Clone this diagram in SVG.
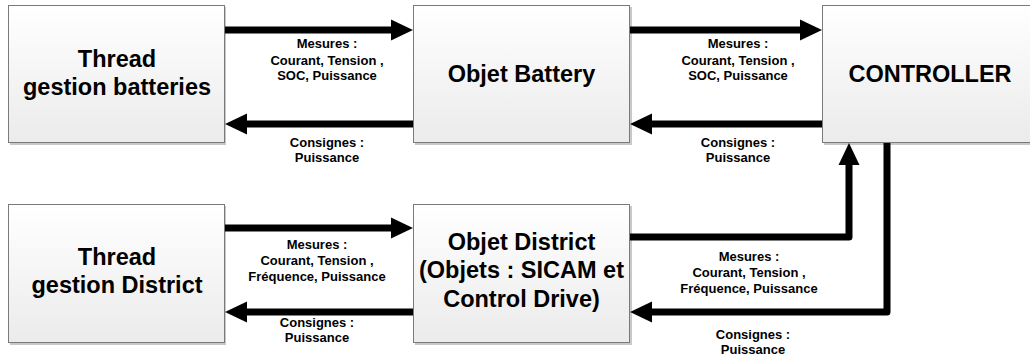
<svg xmlns="http://www.w3.org/2000/svg" width="1030" height="357" viewBox="0 0 1030 357">
<defs>
<linearGradient id="g" x1="0" y1="0" x2="0" y2="1">
<stop offset="0" stop-color="#ffffff"/>
<stop offset="1" stop-color="#ebebeb"/>
</linearGradient>
<style>
.box{fill:url(#g);stroke:#7a7a7a;stroke-width:1}
.sh{fill:#c8c8c8}
.t{font-family:"Liberation Sans",Arial,sans-serif;font-weight:bold;font-size:23.5px;fill:#000;text-anchor:middle}
.l{font-family:"Liberation Sans",Arial,sans-serif;font-weight:bold;font-size:13px;fill:#000;text-anchor:middle}
.ln{fill:none;stroke:#000;stroke-width:7;stroke-linejoin:round}
.hd{fill:#000}
</style>
</defs>
<rect width="1030" height="357" fill="#fff"/>

<g id="node-thread-batteries">
<rect class="sh" x="10" y="7" width="216" height="138"/>
<rect class="box" x="8.5" y="5.5" width="216" height="137"/>
<text class="t" x="117" y="67">Thread</text>
<text class="t" x="117" y="95">gestion batteries</text>
</g>

<g id="node-objet-battery">
<rect class="sh" x="415" y="7" width="217" height="138"/>
<rect class="box" x="413.5" y="5.5" width="216" height="137"/>
<text class="t" x="521.5" y="82">Objet Battery</text>
</g>

<g id="node-controller">
<rect class="sh" x="824" y="7" width="210" height="138"/>
<rect class="box" x="822.5" y="5.5" width="212" height="137"/>
<text class="t" x="930" y="82">CONTROLLER</text>
</g>

<g id="node-thread-district">
<rect class="sh" x="10" y="206" width="216" height="139"/>
<rect class="box" x="8.5" y="204.5" width="216" height="138"/>
<text class="t" x="117" y="265">Thread</text>
<text class="t" x="117" y="293">gestion District</text>
</g>

<g id="node-objet-district">
<rect class="sh" x="415" y="206" width="217" height="139"/>
<rect class="box" x="413.5" y="204.5" width="216" height="138"/>
<text class="t" x="521.5" y="250">Objet District</text>
<text class="t" x="521.5" y="278">(Objets : SICAM et</text>
<text class="t" x="521.5" y="307">Control Drive)</text>
</g>

<g id="connectors">
<line class="ln" x1="225" y1="30" x2="393" y2="30"/>
<polygon class="hd" points="391,19.5 413,30 391,40.5"/>
<line class="ln" x1="413" y1="124" x2="245" y2="124"/>
<polygon class="hd" points="247,113.5 225,124 247,134.5"/>
<line class="ln" x1="630" y1="30" x2="802" y2="30"/>
<polygon class="hd" points="800,19.5 822,30 800,40.5"/>
<line class="ln" x1="822" y1="124" x2="650" y2="124"/>
<polygon class="hd" points="652,113.5 630,124 652,134.5"/>
<line class="ln" x1="225" y1="228" x2="393" y2="228"/>
<polygon class="hd" points="391,217.5 413,228 391,238.5"/>
<line class="ln" x1="413" y1="312" x2="245" y2="312"/>
<polygon class="hd" points="247,301.5 225,312 247,322.5"/>
<path class="ln" d="M630,237 H849 V163"/>
<polygon class="hd" points="838.5,165 849,143 859.5,165"/>
<path class="ln" d="M887,143 V312 H650"/>
<polygon class="hd" points="652,301.5 630,312 652,322.5"/>
</g>

<g id="labels">
<text class="l" x="327" y="48">Mesures :</text>
<text class="l" x="327" y="64.5">Courant, Tension ,</text>
<text class="l" x="327" y="80">SOC, Puissance</text>
<text class="l" x="327" y="147">Consignes :</text>
<text class="l" x="327" y="162">Puissance</text>

<text class="l" x="738" y="48">Mesures :</text>
<text class="l" x="738" y="64.5">Courant, Tension ,</text>
<text class="l" x="738" y="80">SOC, Puissance</text>
<text class="l" x="738" y="147">Consignes :</text>
<text class="l" x="738" y="162">Puissance</text>

<text class="l" x="317" y="249">Mesures :</text>
<text class="l" x="317" y="265">Courant, Tension ,</text>
<text class="l" x="317" y="281">Fréquence, Puissance</text>
<text class="l" x="317" y="327">Consignes :</text>
<text class="l" x="317" y="342">Puissance</text>

<text class="l" x="749" y="261">Mesures :</text>
<text class="l" x="749" y="277">Courant, Tension ,</text>
<text class="l" x="749" y="293">Fréquence, Puissance</text>
<text class="l" x="753" y="339">Consignes :</text>
<text class="l" x="753" y="354">Puissance</text>
</g>
</svg>
